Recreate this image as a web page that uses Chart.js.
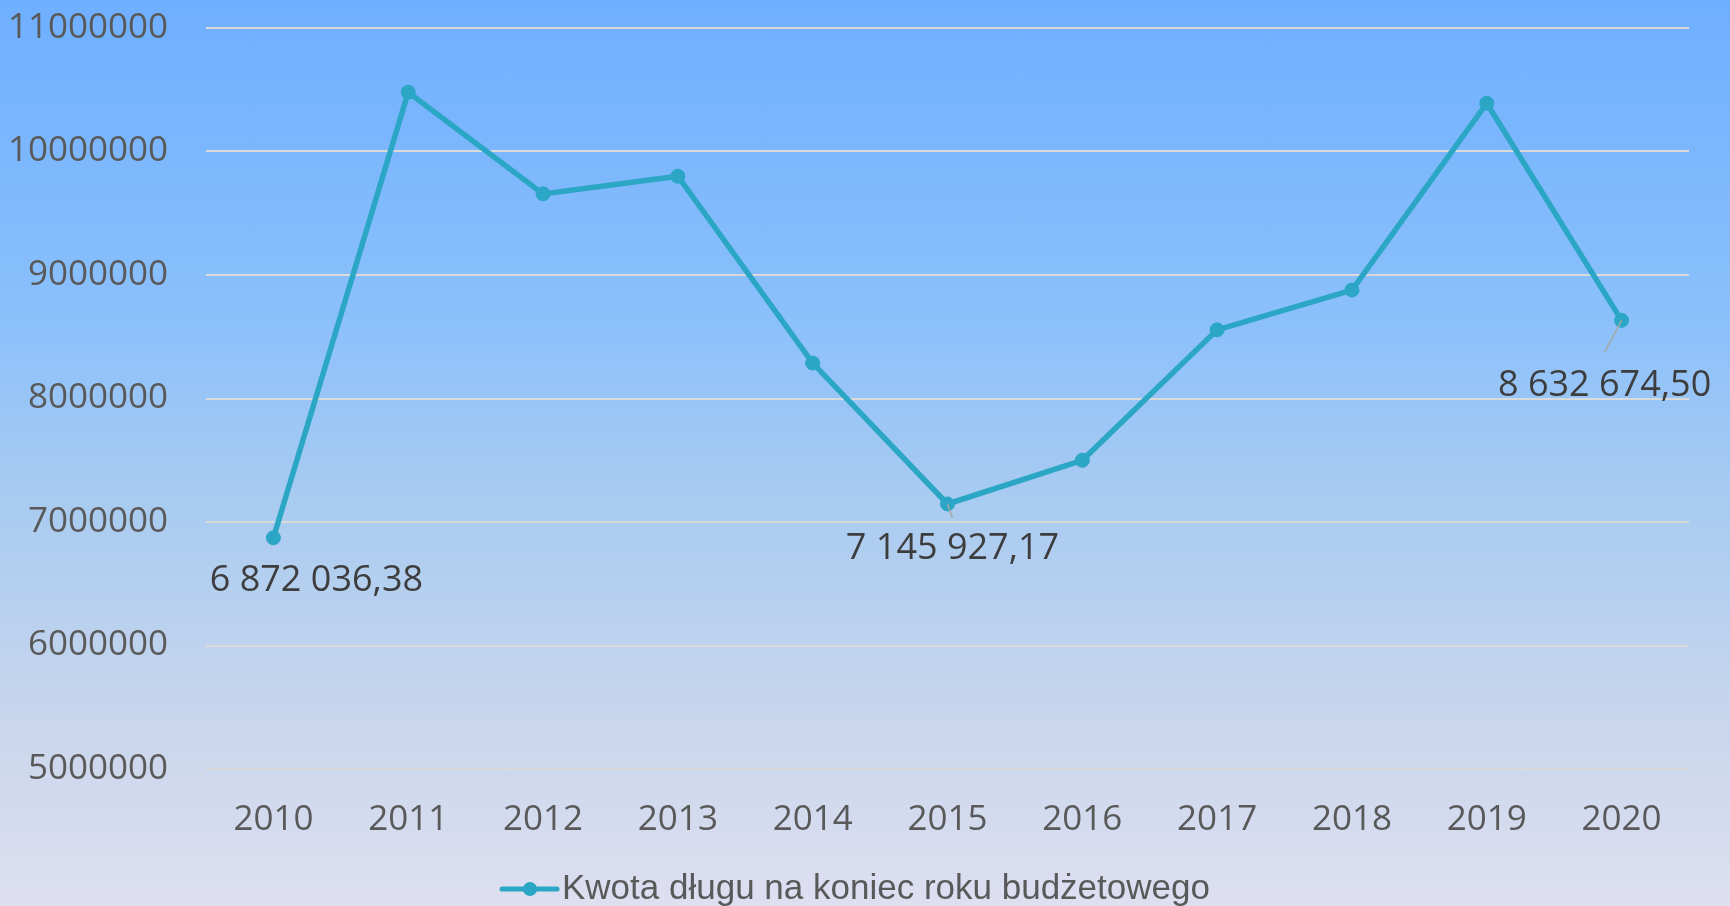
<!DOCTYPE html>
<html>
<head>
<meta charset="utf-8">
<script src="https://cdn.jsdelivr.net/npm/chart.js@4.4.0/dist/chart.umd.min.js"></script>
<style>
  html, body { margin: 0; padding: 0; }
  body {
    width: 1730px; height: 906px; overflow: hidden;
    background: linear-gradient(to bottom, #6eafff 0%, #8bc0fb 35%, #a8cbf1 55%, #c9d6ec 80%, #dedff1 100%);
  }
</style>
</head>
<body>
<canvas id="debtChart" width="1730" height="906"></canvas>
<script>
const years = ["2010", "2011", "2012", "2013", "2014", "2015", "2016", "2017", "2018", "2019", "2020"];
const debt = [6872036.38, 10480000, 9657000, 9800000, 8287000, 7145927.17, 7500000, 8556000, 8878000, 10391000, 8632674.50];
const labelledYears = ["2010", "2015", "2020"];
const yTicks = [5000000, 6000000, 7000000, 8000000, 9000000, 10000000, 11000000];
const seriesName = "Kwota długu na koniec roku budżetowego";

const lineColor = "#2ba6c5";

// polish style: 6 872 036,38
function plNumber(v) {
  const parts = v.toFixed(2).split(".");
  return parts[0].replace(/\B(?=(\d{3})+(?!\d))/g, " ") + "," + parts[1];
}

// label placement relative to its point: [dx, dy, leaderEndDx, leaderEndDy]
const labelOffsets = {
  "2010": [43, 43, null, null],
  "2015": [5, 45, 5, 14],
  "2020": [-17, 65, -17, 32]
};

const pointLabels = {
  id: "pointLabels",
  afterDatasetsDraw(chart) {
    const ctx = chart.ctx;
    const meta = chart.getDatasetMeta(0);
    ctx.save();
    chart.data.labels.forEach((yr, i) => {
      if (!labelledYears.includes(yr)) return;
      const p = meta.data[i];
      const off = labelOffsets[yr];
      if (off[2] !== null) {
        ctx.strokeStyle = "#a6a6a6";
        ctx.lineWidth = 1.5;
        ctx.beginPath();
        ctx.moveTo(p.x, p.y);
        ctx.lineTo(p.x + off[2], p.y + off[3]);
        ctx.stroke();
      }
      ctx.font = "36px 'Open Sans'";
      ctx.fillStyle = "#3d3d3d";
      ctx.textAlign = "center";
      ctx.textBaseline = "middle";
      ctx.fillText(plNumber(chart.data.datasets[0].data[i]), p.x + off[0], p.y + off[1]);
    });
    ctx.restore();
  }
};

const lineLegend = {
  id: "lineLegend",
  afterDraw(chart) {
    const ctx = chart.ctx;
    const ds = chart.data.datasets[0];
    const x = 502, y = 889;
    ctx.save();
    ctx.strokeStyle = ds.borderColor;
    ctx.lineWidth = 5;
    ctx.lineCap = "round";
    ctx.beginPath();
    ctx.moveTo(x, y);
    ctx.lineTo(x + 55, y);
    ctx.stroke();
    ctx.fillStyle = ds.borderColor;
    ctx.beginPath();
    ctx.arc(x + 28, y, 7, 0, Math.PI * 2);
    ctx.fill();
    ctx.font = "35px 'Liberation Sans'";
    ctx.fillStyle = "#595959";
    ctx.textAlign = "left";
    ctx.textBaseline = "middle";
    ctx.fillText(ds.label, x + 60, y);
    ctx.restore();
  }
};

const ctx = document.getElementById("debtChart").getContext("2d");
new Chart(ctx, {
  type: "line",
  data: {
    labels: years,
    datasets: [{
      label: seriesName,
      data: debt,
      borderColor: lineColor,
      backgroundColor: lineColor,
      borderWidth: 5.5,
      pointRadius: 7,
      pointBorderWidth: 1,
      pointBackgroundColor: lineColor,
      pointBorderColor: lineColor,
      tension: 0
    }]
  },
  options: {
    responsive: false,
    devicePixelRatio: 1,
    animation: false,
    layout: { padding: { left: 0, right: 41, top: 0, bottom: 35 } },
    plugins: {
      legend: { display: false },
      tooltip: { enabled: false }
    },
    scales: {
      x: {
        offset: true,
        grid: { display: false, drawTicks: false },
        border: { display: false },
        ticks: {
          color: "#595959",
          font: { family: "'Open Sans'", size: 35 },
          padding: 30,
          maxRotation: 0
        }
      },
      y: {
        min: yTicks[0],
        max: yTicks[yTicks.length - 1],
        afterBuildTicks: axis => { axis.ticks = yTicks.map(v => ({ value: v })); },
        afterFit: axis => {
          axis.width = 206;
          axis.paddingTop = 28;
          axis.paddingBottom = 0;
        },
        grid: { color: "#dadada", lineWidth: 2, drawTicks: false },
        border: { display: false },
        ticks: {
          color: "#595959",
          font: { family: "'Open Sans'", size: 35 },
          padding: 38,
          callback: v => String(v)
        }
      }
    }
  },
  plugins: [pointLabels, lineLegend]
});
</script>
</body>
</html>
